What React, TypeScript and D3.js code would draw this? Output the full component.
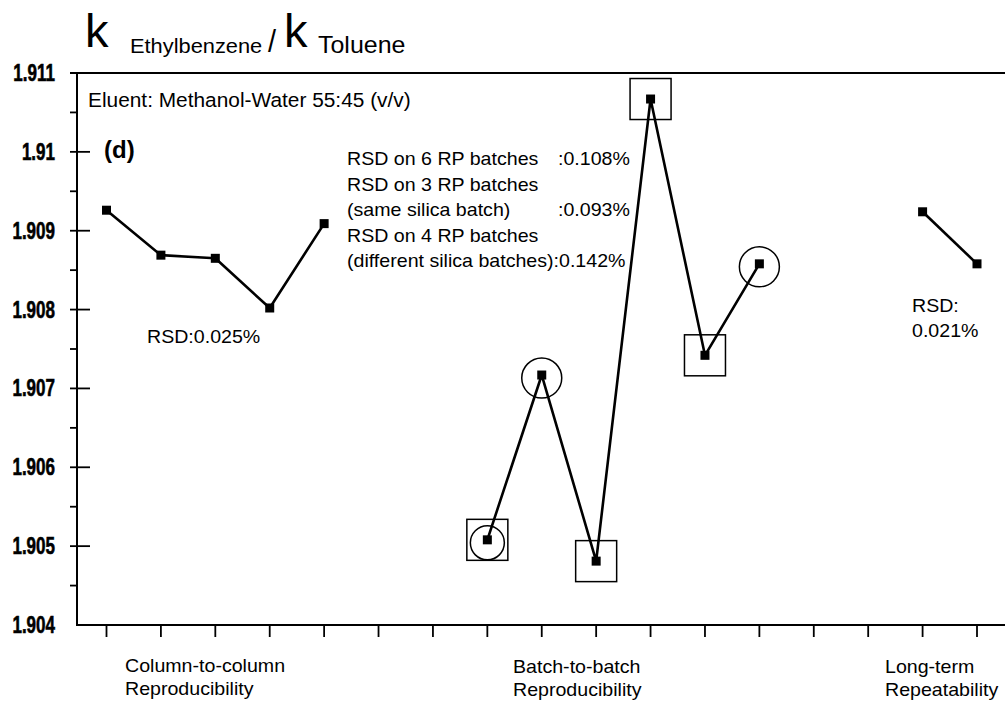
import React from "react";
import * as d3 from "d3";

// Retention-factor ratio k(ethylbenzene)/k(toluene) for three reproducibility studies
const columnIdx = [0, 1, 2, 3, 4];
const columnVals = [1.90926, 1.90869, 1.90865, 1.90802, 1.90909];

const batchIdx = [7, 8, 9, 10, 11, 12];
const batchVals = [1.90508, 1.90717, 1.90481, 1.91067, 1.90742, 1.90858];

const longIdx = [15, 16];
const longVals = [1.90924, 1.90858];

// batches prepared from the same silica batch (circled) / different silica batches (boxed)
const circledIdx = [7, 8, 12];
const boxedIdx = [7, 9, 10, 11];

const yTicks = [1.904, 1.905, 1.906, 1.907, 1.908, 1.909, 1.91, 1.911];
const yTickLabels = ["1.904", "1.905", "1.906", "1.907", "1.908", "1.909", "1.91", "1.911"];
const yMinorTicks = [1.9045, 1.9055, 1.9065, 1.9075, 1.9085, 1.9095, 1.9105];
const xTicks = d3.range(0, 17);

const W = 1005;
const H = 702;
const axisX = 77;
const top = 73;
const bottom = 625;

const x = d3.scaleLinear().domain([0, 16]).range([106.5, 977]);
const y = d3.scaleLinear().domain([1.904, 1.911]).range([bottom, top]);

const lineGen = d3
  .line<[number, number]>()
  .x((d) => x(d[0]))
  .y((d) => y(d[1]));

const FONT = "'Liberation Sans', Arial, Helvetica, sans-serif";
const SX = 1.06;

function Label({
  x0,
  y0,
  size = 18.5,
  weight = "normal",
  sx = SX,
  anchor = "start",
  children,
}: {
  x0: number;
  y0: number;
  size?: number;
  weight?: string;
  sx?: number;
  anchor?: string;
  children: React.ReactNode;
}) {
  return (
    <text
      transform={`translate(${x0},${y0}) scale(${sx},1)`}
      fontFamily={FONT}
      fontSize={size}
      fontWeight={weight}
      textAnchor={anchor}
      fill="#000"
    >
      {children}
    </text>
  );
}

function Series({ idx, vals }: { idx: number[]; vals: number[] }) {
  const pts = idx.map((i, k) => [i, vals[k]] as [number, number]);
  return (
    <g>
      <path d={lineGen(pts) || ""} fill="none" stroke="#000" strokeWidth={2.6} strokeLinejoin="round" />
      {pts.map((p, k) => (
        <rect key={k} x={x(p[0]) - 4.5} y={y(p[1]) - 4.5} width={9} height={9} fill="#000" />
      ))}
    </g>
  );
}

export default function App() {
  const batchPoint = (i: number) => batchVals[batchIdx.indexOf(i)];
  return (
    <svg
      width={W}
      height={H}
      style={{ position: "absolute", left: 0, top: 0, background: "#fff" }}
    >
      <rect width={W} height={H} fill="#fff" />

      {/* title */}
      <Label x0={85} y0={47} size={47} sx={1.0}>k</Label>
      <Label x0={130} y0={53} size={21} sx={1.04}>Ethylbenzene</Label>
      <Label x0={268} y0={52} size={32} sx={0.9}>/</Label>
      <Label x0={284} y0={47} size={47} sx={1.0}>k</Label>
      <Label x0={318} y0={53} size={24} sx={1.04}>Toluene</Label>

      {/* frame: top line, y axis, x axis */}
      <line x1={70} x2={W} y1={top} y2={top} stroke="#000" strokeWidth={2} />
      <line x1={axisX} x2={axisX} y1={top} y2={bottom} stroke="#000" strokeWidth={2} />
      <line x1={axisX - 1} x2={W} y1={bottom} y2={bottom} stroke="#000" strokeWidth={2} />

      {/* y ticks */}
      {yTicks.map((t, k) => (
        <g key={t}>
          {k > 0 && k < yTicks.length - 1 && (
            <line x1={70} x2={90} y1={y(t)} y2={y(t)} stroke="#000" strokeWidth={1.8} />
          )}
          <text
            transform={`translate(55,${y(t) + 8}) scale(0.74,1)`}
            fontFamily={FONT}
            fontWeight="bold"
            fontSize={23}
            textAnchor="end"
            fill="#000"
            stroke="#000"
            strokeWidth={0.6}
          >
            {yTickLabels[k]}
          </text>
        </g>
      ))}
      {yMinorTicks.map((t) => (
        <line key={t} x1={70} x2={axisX} y1={y(t)} y2={y(t)} stroke="#000" strokeWidth={1.8} />
      ))}

      {/* x ticks */}
      {xTicks.map((t) => (
        <line key={t} x1={x(t)} x2={x(t)} y1={bottom} y2={bottom + 12} stroke="#000" strokeWidth={1.8} />
      ))}

      {/* group annotations */}
      {boxedIdx.map((i) => (
        <rect
          key={"b" + i}
          x={x(i) - 20.5}
          y={y(batchPoint(i)) - 20.5}
          width={41}
          height={41}
          fill="none"
          stroke="#000"
          strokeWidth={1.5}
        />
      ))}
      {circledIdx.map((i) => (
        <circle
          key={"c" + i}
          cx={x(i)}
          cy={y(batchPoint(i)) + 3}
          r={i === 7 ? 17 : 20}
          fill="none"
          stroke="#000"
          strokeWidth={1.5}
        />
      ))}

      <Series idx={columnIdx} vals={columnVals} />
      <Series idx={batchIdx} vals={batchVals} />
      <Series idx={longIdx} vals={longVals} />

      {/* text annotations */}
      <Label x0={88} y0={107} size={19.5} sx={1.07}>Eluent: Methanol-Water 55:45 (v/v)</Label>
      <Label x0={104} y0={158} size={24} sx={1.0} weight="bold">(d)</Label>

      <Label x0={347} y0={165}>RSD on 6 RP batches</Label>
      <Label x0={558} y0={165}>:0.108%</Label>
      <Label x0={347} y0={191}>RSD on 3 RP batches</Label>
      <Label x0={347} y0={216}>(same silica batch)</Label>
      <Label x0={558} y0={216}>:0.093%</Label>
      <Label x0={347} y0={242}>RSD on 4 RP batches</Label>
      <Label x0={347} y0={267}>(different silica batches):0.142%</Label>

      <Label x0={147} y0={343}>RSD:0.025%</Label>
      <Label x0={912} y0={312}>RSD:</Label>
      <Label x0={912} y0={337}>0.021%</Label>

      {/* category labels */}
      <Label x0={125} y0={672}>Column-to-column</Label>
      <Label x0={125} y0={695}>Reproducibility</Label>
      <Label x0={513} y0={673}>Batch-to-batch</Label>
      <Label x0={513} y0={696}>Reproducibility</Label>
      <Label x0={885} y0={673}>Long-term</Label>
      <Label x0={885} y0={696}>Repeatability</Label>
    </svg>
  );
}
